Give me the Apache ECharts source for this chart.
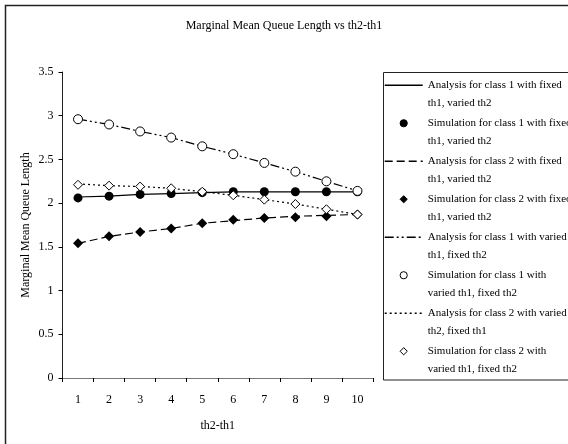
<!DOCTYPE html>
<html>
<head>
<meta charset="utf-8">
<script src="https://cdn.jsdelivr.net/npm/echarts@6/dist/echarts.min.js"></script>
<style>
  html, body { margin: 0; padding: 0; background: #fff; }
  #chart { width: 568px; height: 444px; }
</style>
</head>
<body>
<div id="chart"></div>
<script>
// th2 - th1 difference
var categories = ['1', '2', '3', '4', '5', '6', '7', '8', '9', '10'];

// class 1, fixed th1, varied th2
var anaClass1FixedTh1 = [2.07, 2.08, 2.10, 2.11, 2.12, 2.13, 2.13, 2.13, 2.13, 2.13];
var simClass1FixedTh1 = [2.06, 2.08, 2.10, 2.11, 2.12, 2.13, 2.13, 2.13, 2.13, 2.13];
// class 2, fixed th1, varied th2
var anaClass2FixedTh1 = [1.54, 1.62, 1.67, 1.71, 1.77, 1.80, 1.83, 1.85, 1.86, 1.87];
var simClass2FixedTh1 = [1.54, 1.62, 1.67, 1.71, 1.77, 1.81, 1.83, 1.84, 1.85, 1.87];
// class 1, varied th1, fixed th2
var anaClass1VariedTh1 = [2.96, 2.90, 2.82, 2.75, 2.65, 2.56, 2.46, 2.36, 2.25, 2.14];
var simClass1VariedTh1 = [2.96, 2.90, 2.82, 2.75, 2.65, 2.56, 2.46, 2.36, 2.25, 2.14];
// class 2, varied th1, fixed th2
var anaClass2VariedTh1 = [2.22, 2.20, 2.19, 2.17, 2.13, 2.09, 2.04, 1.99, 1.93, 1.87];
var simClass2VariedTh1 = [2.21, 2.20, 2.19, 2.17, 2.13, 2.09, 2.04, 1.99, 1.93, 1.87];

var seriesNames = [
  'Analysis for class 1 with fixed\nth1, varied th2',
  'Simulation for class 1 with fixed\nth1, varied th2',
  'Analysis for class 2 with fixed\nth1, varied th2',
  'Simulation for class 2 with fixed\nth1, varied th2',
  'Analysis for class 1 with varied\nth1, fixed th2',
  'Simulation for class 1 with\nvaried th1, fixed th2',
  'Analysis for class 2 with varied\nth2, fixed th1',
  'Simulation for class 2 with\nvaried th1, fixed th2'
];

var yTicks = { min: 0, max: 3.5, step: 0.5 };

var FONT = '"Liberation Serif", "Times New Roman", serif';
var INK = '#000';
var CLEAR = 'rgba(0,0,0,0)';

// model curves: plain lines, no markers
function analysisLine(name, data, dash) {
  return {
    name: name, type: 'line', data: data, symbol: 'none', z: 2,
    lineStyle: { color: INK, width: 1.2, type: dash },
    itemStyle: { color: INK }
  };
}
// simulated points: markers only (the connecting line is hidden)
function simulationMarks(name, data, symbol, filled, size) {
  return {
    name: name, type: 'line', data: data, symbol: symbol, symbolSize: size,
    showSymbol: true, showAllSymbol: true, symbolKeepAspect: true, z: 3,
    lineStyle: { width: 0, opacity: 0, color: INK },
    itemStyle: { color: filled ? INK : '#fff', borderColor: INK, borderWidth: filled ? 0 : 1, opacity: 1 }
  };
}

// legend rows: analysis rows show only their line sample, simulation rows their marker
var legendRows = seriesNames.map(function (name, i) {
  if (i % 2 === 0) {
    return { name: name, itemStyle: { color: CLEAR, borderColor: CLEAR, borderWidth: 0 } };
  }
  return { name: name, itemStyle: { borderWidth: 1 } };
});

var chart = echarts.init(document.getElementById('chart'), null, { renderer: 'canvas' });
chart.setOption({
  animation: false,
  backgroundColor: '#fff',
  textStyle: { fontFamily: FONT, color: INK },
  title: {
    text: 'Marginal Mean Queue Length vs th2-th1',
    left: 'center', top: 15,
    textStyle: { fontFamily: FONT, fontSize: 12, fontWeight: 'normal', color: INK }
  },
  grid: { left: 62.5, right: 195, top: 72, bottom: 66 },
  xAxis: {
    type: 'category', data: categories, boundaryGap: true,
    name: 'th2-th1', nameLocation: 'middle', nameGap: 42, nameMoveOverlap: false,
    nameTextStyle: { fontFamily: FONT, fontSize: 12, color: INK },
    axisLine: { lineStyle: { color: '#777', width: 1.2 } },
    axisTick: { show: true, length: 4, lineStyle: { color: INK } },
    axisLabel: { fontFamily: FONT, fontSize: 12, color: INK, margin: 16 },
    splitLine: { show: false }
  },
  yAxis: {
    type: 'value', min: yTicks.min, max: yTicks.max, interval: yTicks.step,
    name: 'Marginal Mean Queue Length', nameLocation: 'middle', nameGap: 31, nameMoveOverlap: false,
    nameTextStyle: { fontFamily: FONT, fontSize: 12, color: INK },
    axisLine: { show: true, lineStyle: { color: '#222', width: 1 } },
    axisTick: { show: true, length: 4, lineStyle: { color: INK } },
    axisLabel: { fontFamily: FONT, fontSize: 12, color: INK, margin: 9 },
    splitLine: { show: false }
  },
  legend: {
    orient: 'vertical', left: 384, top: 59, padding: 0,
    itemWidth: 38, itemHeight: 9, itemGap: -14.5,
    symbolKeepAspect: true,
    lineStyle: { width: 1.4 },
    formatter: function (name) { return '\n' + name; },
    textStyle: { fontFamily: FONT, fontSize: 11, color: INK, lineHeight: 17.5 },
    data: legendRows
  },
  graphic: [
    { type: 'rect', silent: true, z: 0,
      shape: { x: 5.5, y: 5.5, width: 620, height: 500 },
      style: { fill: null, stroke: '#222', lineWidth: 1.5 } },
    { type: 'rect', silent: true, z: 0,
      shape: { x: 383.5, y: 72.5, width: 300, height: 307.5 },
      style: { fill: null, stroke: '#222', lineWidth: 1 } }
  ],
  series: [
    analysisLine(seriesNames[0], anaClass1FixedTh1, 'solid'),
    simulationMarks(seriesNames[1], simClass1FixedTh1, 'circle', true, 9),
    analysisLine(seriesNames[2], anaClass2FixedTh1, [8, 4]),
    simulationMarks(seriesNames[3], simClass2FixedTh1, 'diamond', true, 10),
    analysisLine(seriesNames[4], anaClass1VariedTh1, [9, 3, 2, 3, 2, 3]),
    simulationMarks(seriesNames[5], simClass1VariedTh1, 'circle', false, 9),
    analysisLine(seriesNames[6], anaClass2VariedTh1, [2, 3]),
    simulationMarks(seriesNames[7], simClass2VariedTh1, 'diamond', false, 9)
  ]
});
</script>
</body>
</html>
